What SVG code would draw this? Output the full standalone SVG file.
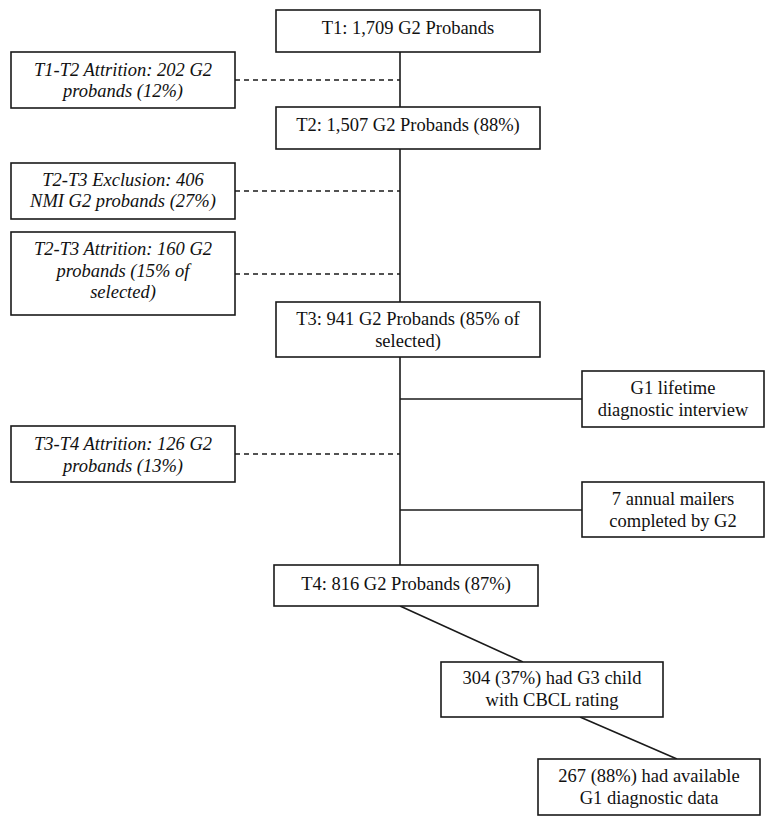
<svg xmlns="http://www.w3.org/2000/svg" width="773" height="824" viewBox="0 0 773 824">
<style>
rect{fill:#fff;stroke:#1a1a1a;stroke-width:1.6}
text{font-family:"Liberation Serif","Times New Roman",serif;font-size:18.5px;fill:#111;text-anchor:middle}
.it{font-style:italic}
.ln{stroke:#1a1a1a;stroke-width:1.6;fill:none}
.ds{stroke:#1a1a1a;stroke-width:1.6;fill:none;stroke-dasharray:5,4}
</style>
<rect x="0" y="0" width="773" height="824" style="fill:#fff;stroke:none"/>
<g id="connectors">
<line class="ln" x1="400" y1="52" x2="400" y2="565"/>
<line class="ln" x1="400" y1="399" x2="582" y2="399"/>
<line class="ln" x1="400" y1="510" x2="582" y2="510"/>
<line class="ds" x1="235" y1="80" x2="400" y2="80"/>
<line class="ds" x1="235" y1="191" x2="400" y2="191"/>
<line class="ds" x1="235" y1="274" x2="400" y2="274"/>
<line class="ds" x1="235" y1="454" x2="400" y2="454"/>
<line class="ln" x1="400" y1="606" x2="523" y2="662"/>
<line class="ln" x1="580" y1="717" x2="677" y2="759"/>
</g>
<g id="t1"><rect x="276" y="10" width="264" height="42"/><text x="408" y="34">T1: 1,709 G2 Probands</text></g>
<g id="a1"><rect x="11" y="52" width="224" height="56"/><text class="it" x="123" y="76">T1-T2 Attrition: 202 G2</text><text class="it" x="123" y="97">probands (12%)</text></g>
<g id="t2"><rect x="276" y="107" width="264" height="42"/><text x="408" y="131">T2: 1,507 G2 Probands (88%)</text></g>
<g id="e1"><rect x="11" y="163" width="224" height="56"/><text class="it" x="123" y="186">T2-T3 Exclusion: 406</text><text class="it" x="123" y="207">NMI G2 probands (27%)</text></g>
<g id="a2"><rect x="11" y="232" width="224" height="83"/><text class="it" x="123" y="255">T2-T3 Attrition: 160 G2</text><text class="it" x="123" y="277">probands (15% of</text><text class="it" x="123" y="298">selected)</text></g>
<g id="t3"><rect x="276" y="302" width="264" height="55"/><text x="408" y="325">T3: 941 G2 Probands (85% of</text><text x="408" y="347">selected)</text></g>
<g id="g1"><rect x="582" y="371" width="182" height="56"/><text x="673" y="394">G1 lifetime</text><text x="673" y="416">diagnostic interview</text></g>
<g id="a3"><rect x="11" y="426" width="224" height="56"/><text class="it" x="123" y="450">T3-T4 Attrition: 126 G2</text><text class="it" x="123" y="472">probands (13%)</text></g>
<g id="mail"><rect x="582" y="482" width="182" height="55"/><text x="673" y="505">7 annual mailers</text><text x="673" y="527">completed by G2</text></g>
<g id="t4"><rect x="274" y="565" width="264" height="41"/><text x="406" y="590">T4: 816 G2 Probands (87%)</text></g>
<g id="g3"><rect x="441" y="662" width="222" height="55"/><text x="552" y="684">304 (37%) had G3 child</text><text x="552" y="706">with CBCL rating</text></g>
<g id="g1d"><rect x="538" y="759" width="222" height="56"/><text x="649" y="782">267 (88%) had available</text><text x="649" y="804">G1 diagnostic data</text></g>
</svg>
